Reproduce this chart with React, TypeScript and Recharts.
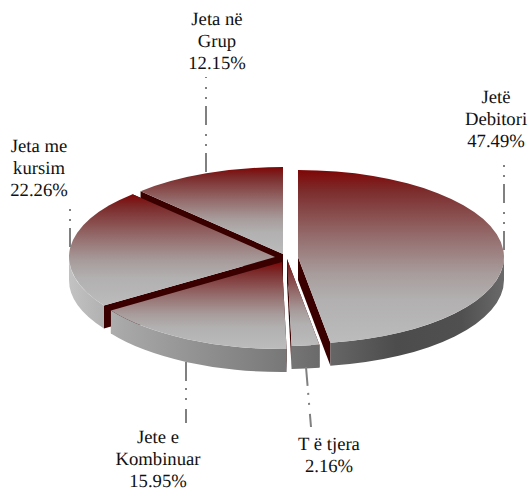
import { PieChart, Pie } from 'recharts';

// drawn back to front, counter-clockwise from 12 o'clock
const categories = ['Jeta në Grup', 'Jeta me kursim', 'Jete e Kombinuar', 'T ë tjera', 'Jetë Debitori'];
const shares = [12.15, 22.26, 15.95, 2.16, 47.49];
const shareLabels = ['12.15%', '22.26%', '15.95%', '2.16%', '47.49%'];
const labelLines = [['Jeta në', 'Grup'], ['Jeta me', 'kursim'], ['Jete e', 'Kombinuar'], ['T ë tjera'], ['Jetë', 'Debitori']];

const data = categories.map((name, i) => ({ name, value: shares[i] }));

const WIDTH = 530;
const HEIGHT = 492;
const TILT = 0.422;
const DEPTH = 23;
const FONT = '"Liberation Serif", "Times New Roman", serif';

const explode: Record<string, [number, number]> = {
  'Jeta në Grup': [-2, -4],
  'Jeta me kursim': [-10, -1],
  'Jete e Kombinuar': [-3, 4],
  'T ë tjera': [2, 1],
  'Jetë Debitori': [13, -1],
};

// text centre x, first baseline y, leader from -> to
const labelPlace: Record<string, { x: number; y: number; lead: number[] }> = {
  'Jeta në Grup': { x: 217, y: 25, lead: [206, 172, 206, 77] },
  'Jeta me kursim': { x: 39, y: 152, lead: [70, 247, 70, 208] },
  'Jete e Kombinuar': { x: 158, y: 443, lead: [186, 362, 186, 423] },
  'T ë tjera': { x: 329, y: 450, lead: [306, 367, 311, 427] },
  'Jetë Debitori': { x: 496, y: 103, lead: [504, 250, 504, 156] },
};

function Slice(props: any) {
  const { cx, cy, outerRadius, startAngle, endAngle, payload } = props;
  const name = payload?.name ?? props.name;
  const [dx, dy] = explode[name];
  const rx = outerRadius;
  const ry = outerRadius * TILT;
  const ax = cx + dx;
  const ay = cy + dy;
  const a0 = Math.min(startAngle, endAngle);
  const a1 = Math.max(startAngle, endAngle);
  const pt = (deg: number, drop = 0) => {
    const r = (deg * Math.PI) / 180;
    return [ax + rx * Math.cos(r), ay - ry * Math.sin(r) + drop];
  };
  const [sx, sy] = pt(a0);
  const [ex, ey] = pt(a1);
  const large = a1 - a0 > 180 ? 1 : 0;
  const top = `M${ax},${ay} L${sx},${sy} A${rx},${ry} 0 ${large} 0 ${ex},${ey} Z`;
  const wall = (x: number, y: number) =>
    `M${ax},${ay} L${x},${y} L${x},${y + DEPTH} L${ax},${ay + DEPTH} Z`;

  // only the part of the edge facing the viewer gets a rim
  const f0 = Math.max(a0, 180);
  const f1 = Math.min(a1, 360);
  let rim = '';
  if (f1 > f0) {
    const [x0, y0] = pt(f0);
    const [x1, y1] = pt(f1);
    rim = `M${x0},${y0} A${rx},${ry} 0 0 0 ${x1},${y1} L${x1},${y1 + DEPTH} A${rx},${ry} 0 0 1 ${x0},${y0 + DEPTH} Z`;
  }

  return (
    <g>
      <path d={wall(sx, sy)} fill="#3a0000" />
      <path d={wall(ex, ey)} fill="#3a0000" />
      {rim && <path d={rim} fill="url(#rimGradient)" />}
      <path d={top} fill="url(#topGradient)" />
    </g>
  );
}

function SliceLabel(props: any) {
  const name = props.payload?.name ?? props.name;
  const i = categories.indexOf(name);
  const place = labelPlace[name];
  const rows = [...labelLines[i], shareLabels[i]];
  const [x1, y1, x2, y2] = place.lead;
  return (
    <g>
      <line x1={x1} y1={y1} x2={x2} y2={y2} stroke="#808080" strokeWidth={2} strokeDasharray="19 7 2 8 2 9" />
      <text
        x={place.x}
        y={place.y}
        textAnchor="middle"
        fontFamily={FONT}
        fontSize={18.67}
        fill="#111"
        textRendering="geometricPrecision"
      >
        {rows.map((row, j) => (
          <tspan key={row} x={place.x} dy={j === 0 ? 0 : 22}>
            {row}
          </tspan>
        ))}
      </text>
    </g>
  );
}

export default function App() {
  return (
    <div style={{ position: 'absolute', left: 0, top: 0, width: WIDTH, height: HEIGHT }}>
      <PieChart width={WIDTH} height={HEIGHT} margin={{ top: 0, right: 0, bottom: 0, left: 0 }}>
        <defs>
          <linearGradient id="topGradient" x1="0" y1="0" x2="0" y2="1">
            <stop offset="0%" stopColor="#7e0606" />
            <stop offset="12%" stopColor="#7c2c2c" />
            <stop offset="40%" stopColor="#967070" />
            <stop offset="60%" stopColor="#a89c9c" />
            <stop offset="75%" stopColor="#b2b0b0" />
            <stop offset="100%" stopColor="#bcbcbc" />
          </linearGradient>
          <linearGradient id="rimGradient" gradientUnits="userSpaceOnUse" x1="70" y1="0" x2="505" y2="0">
            <stop offset="0%" stopColor="#c2c2c2" />
            <stop offset="12%" stopColor="#a8a8a8" />
            <stop offset="50%" stopColor="#777777" />
            <stop offset="75%" stopColor="#4c4c4c" />
            <stop offset="90%" stopColor="#505050" />
            <stop offset="100%" stopColor="#6a6a6a" />
          </linearGradient>
        </defs>
        <Pie
          data={data}
          dataKey="value"
          nameKey="name"
          cx={285}
          cy={258}
          innerRadius={0}
          outerRadius={206}
          startAngle={90}
          endAngle={450}
          paddingAngle={0}
          stroke="none"
          shape={Slice}
          label={SliceLabel}
          labelLine={false}
          isAnimationActive={false}
        />
      </PieChart>
    </div>
  );
}
